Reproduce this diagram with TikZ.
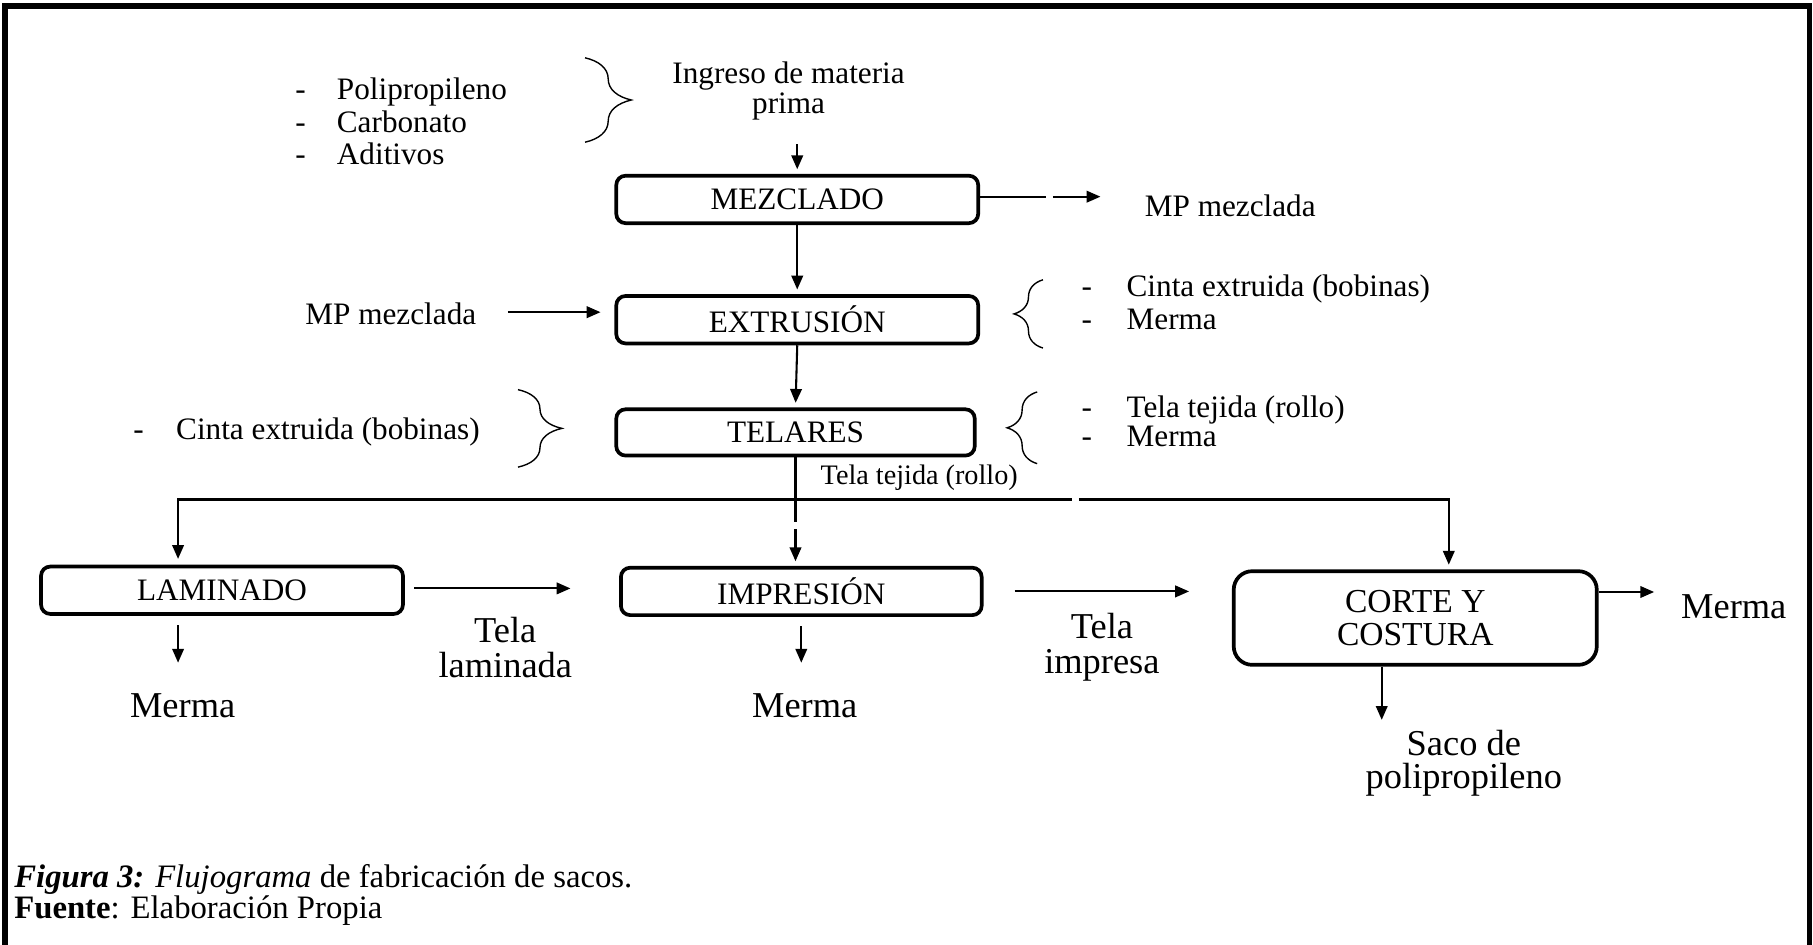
\documentclass[tikz,border=0pt]{standalone}
\usepackage{fontspec}
\setmainfont{Liberation Serif}
\usetikzlibrary{arrows.meta,decorations.pathreplacing}
\begin{document}
\begin{tikzpicture}[x=0.5pt,y=-0.5pt,
  every node/.style={inner sep=1pt, text=black},
  txt/.style={font=\fontsize{13.5}{14}\selectfont},
  bigtxt/.style={font=\fontsize{15.75}{15}\selectfont, align=center},
  smalltxt/.style={font=\fontsize{12.2}{13}\selectfont},
  procbox/.style={draw, line width=1.6pt, rounded corners=4pt,
    minimum width=#1, minimum height=20.5pt, inner sep=0pt,
    font=\fontsize{13.5}{14}\selectfont},
  procbox/.default=156.5pt,
  arr/.style={-{Triangle[length=6pt,width=5pt]}, line width=0.9pt},
  curly/.style={decorate, line width=0.6pt, decoration={brace, amplitude=#1}},
]
\useasboundingbox (0,0) rectangle (1568,817);

% outer frame, open at the bottom
\draw[line width=2.5pt] (4.5,830) -- (4.5,5.5) -- (1565,5.5) -- (1565,830);

% process boxes
\node[procbox] (mez) at (689.5,172.5) {MEZCLADO};
\node[procbox] (ext) at (689.5,276.5) {EXTRUSIÓN};
\node[procbox=155pt, minimum height=20pt] (tel) at (688,374) {TELARES};
\node[procbox, minimum height=20.5pt] (lam) at (192,510.5) {LAMINADO};
\node[procbox=156pt] (imp) at (693,511.5) {IMPRESIÓN};
\node[procbox=157pt, minimum height=40.5pt, rounded corners=8pt,
      font=\fontsize{14.5}{14}\selectfont, align=center] (cor) at (1224,534.5) {CORTE Y\\COSTURA};

% inputs and outputs
\node[anchor=west, align=left, font=\fontsize{13.5}{14}\selectfont] (raw) at (253,105)
  {\makebox[18pt][l]{-}Polipropileno\\\makebox[18pt][l]{-}Carbonato\\\makebox[18pt][l]{-}Aditivos};
\node[align=center, font=\fontsize{13.5}{13}\selectfont] (ing) at (682,79) {Ingreso de materia\\prima};
\node[txt] (mp1) at (1064,178) {MP mezclada};
\node[txt] (mp2) at (338,271) {MP mezclada};
\node[anchor=west, align=left, font=\fontsize{13.5}{14}\selectfont] (outext) at (933,261.5)
  {\makebox[19.5pt][l]{-}Cinta extruida (bobinas)\\\makebox[19.5pt][l]{-}Merma};
\node[txt, anchor=west] (cinta) at (113,374) {\makebox[18.5pt][l]{-}Cinta extruida (bobinas)};
\node[anchor=west, align=left, font=\fontsize{13.5}{12.5}\selectfont] (outtel) at (933,364)
  {\makebox[19.5pt][l]{-}Tela tejida (rollo)\\\makebox[19.5pt][l]{-}Merma};
\node[smalltxt] (tej) at (795,413) {Tela tejida (rollo)};
\node[bigtxt] (tlam) at (437,560) {Tela\\laminada};
\node[bigtxt] (timp) at (953,560) {Tela\\impresa};
\node[bigtxt] (m1) at (158,610) {Merma};
\node[bigtxt] (m2) at (696,610) {Merma};
\node[bigtxt] (m3) at (1499.5,525) {Merma};
\node[bigtxt, font=\fontsize{15.75}{14.5}\selectfont] (saco) at (1266,660) {Saco de\\polipropileno};

% caption
\node[anchor=west, align=left, font=\fontsize{14.15}{13}\selectfont] (cap) at (10,774)
  {\textbf{\textit{Figura 3:}} \textit{Flujograma} de fabricación de sacos.\\\textbf{Fuente}: Elaboración Propia};

% braces
\draw[curly=20pt] (506,50) -- (506,123);
\draw[curly=12.5pt] (902,301) -- (902,242);
\draw[curly=19pt] (448,337) -- (448,404);
\draw[curly=13pt] (897,401) -- (897,339);

% main line
\draw[arr, shorten <=9pt, shorten >=2pt] (ing.south -| mez.north) -- (mez.north);
\draw[arr, dash pattern=on 28.5pt off 3pt on 60pt, shorten >=18pt]
  ([yshift=1.2pt]mez.east) -- ([yshift=1.2pt]mez.east -| mp1.west);
\draw[arr, shorten >=2pt] (mez.south) -- (ext.north);
\draw[arr, shorten <=12.5pt, shorten >=6pt] ([yshift=0.5pt]mp2.east) -- ([yshift=0.5pt]mp2.east -| ext.west);
\draw[arr, shorten >=2pt] (ext.south) -- (tel.north);

% woven fabric goes on to three processes
\coordinate (split) at (tel.south |- 0,432);
\draw[arr, dash pattern=on 28pt off 3pt on 60pt, shorten >=2pt] (tel.south) -- (tel.south |- imp.north);
\draw[arr, shorten >=2.5pt] (split) -| ([xshift=-19pt]lam.north);
\draw[arr, dash pattern=on 119.5pt off 3pt on 600pt, shorten >=2pt] (split) -| ([xshift=14.5pt]cor.north);

% laminated and printed fabric
\draw[arr, shorten <=4pt, shorten >=21pt] ([yshift=0.8pt]lam.east) -- ([yshift=0.8pt]lam.east -| imp.west);
\draw[arr, shorten <=13.5pt, shorten >=18.5pt] (imp.east) -- (imp.east -| cor.west);

% waste and product outputs
\draw[arr, shorten <=4pt, shorten >=12pt] ([xshift=-19pt]lam.south) -- ([xshift=-19pt]lam.south |- m1.north);
\draw[arr, shorten <=4pt, shorten >=12pt] (imp.south) -- (imp.south |- m2.north);
\draw[arr] ([yshift=11.25pt]cor.east) -- ++(48,0);
\draw[arr, shorten >=3pt] ([xshift=-14.5pt]cor.south) -- ++(0,52);
\end{tikzpicture}
\end{document}
